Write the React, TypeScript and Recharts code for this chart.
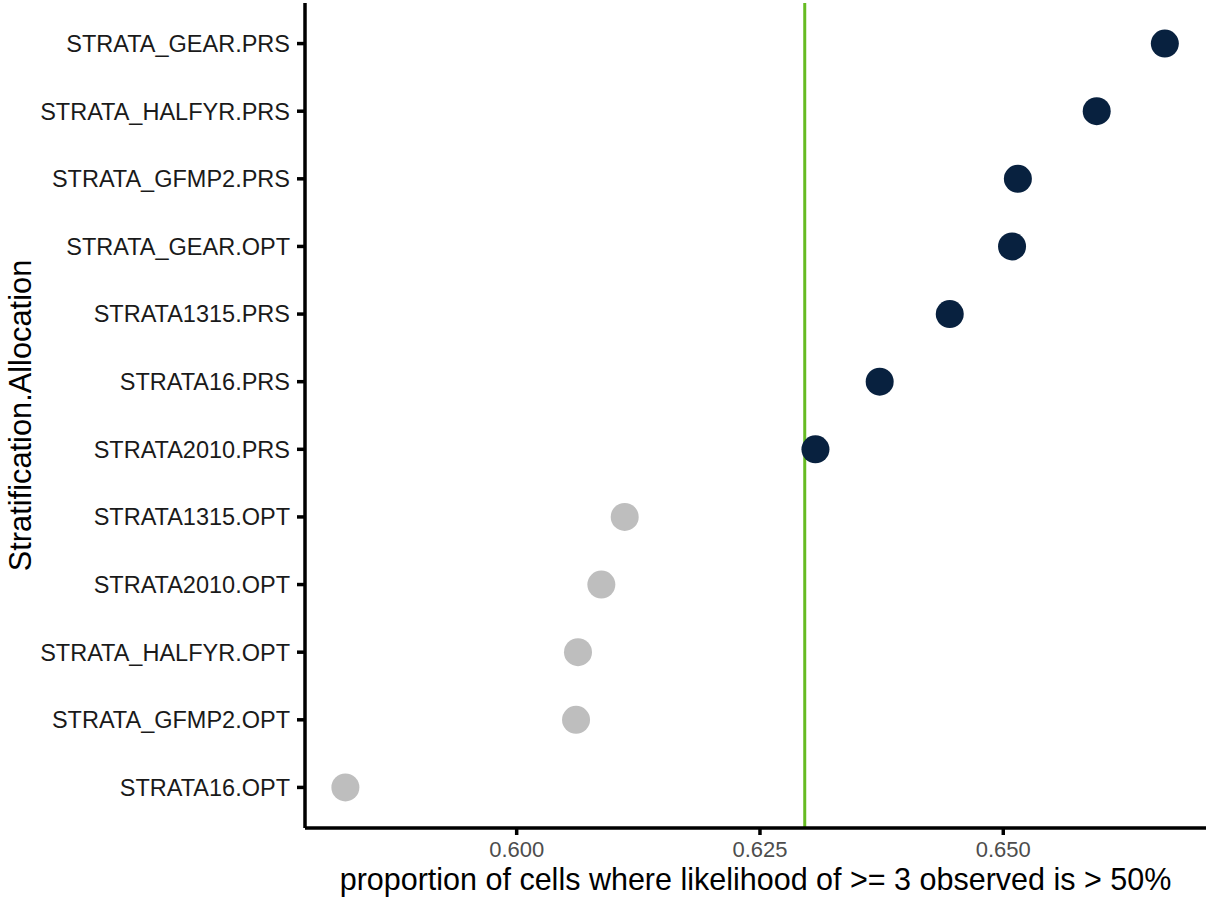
import React from 'react'
import {
  ScatterChart,
  Scatter,
  XAxis,
  YAxis,
  ReferenceLine,
  Label,
} from 'recharts'

// allocation names, top to bottom as they appear on the y axis
const allocations = [
  'STRATA_GEAR.PRS',
  'STRATA_HALFYR.PRS',
  'STRATA_GFMP2.PRS',
  'STRATA_GEAR.OPT',
  'STRATA1315.PRS',
  'STRATA16.PRS',
  'STRATA2010.PRS',
  'STRATA1315.OPT',
  'STRATA2010.OPT',
  'STRATA_HALFYR.OPT',
  'STRATA_GFMP2.OPT',
  'STRATA16.OPT',
]

// proportion of cells where likelihood of >= 3 observed is > 50%
const proportions = [
  0.6666, 0.6596, 0.6515, 0.6509, 0.6445, 0.6373, 0.6307, 0.6111, 0.6087,
  0.6063, 0.6061, 0.5824,
]

const threshold = 0.6296
const xTicks = [0.6, 0.625, 0.65]

const FONT = '"Liberation Sans", Arial, sans-serif'
const ABOVE = '#08213f'
const BELOW = '#bebebe'

const points = allocations.map((name, i) => ({
  name,
  idx: i,
  value: proportions[i],
}))
const abovePts = points.filter((p) => p.value >= threshold)
const belowPts = points.filter((p) => p.value < threshold)

const dot = (color: string) => (props: any) =>
  <circle cx={props.cx} cy={props.cy} r={14} fill={color} />

const YTitle = (props: any) => {
  const vb = props.viewBox
  const cx = 20
  const cy = vb.y + vb.height / 2
  return (
    <text
      x={cx}
      y={cy}
      transform={`rotate(-90, ${cx}, ${cy})`}
      textAnchor='middle'
      dominantBaseline='central'
      fontSize={30.8}
      fontFamily={FONT}
      fill='#000'
    >
      Stratification.Allocation
    </text>
  )
}

export default function App() {
  return (
    <div style={{ position: 'absolute', left: 0, top: 0, background: '#fff' }}>
      <ScatterChart
        width={1206}
        height={900}
        margin={{ top: 3, right: 0, bottom: 0, left: 0 }}
      >
        <XAxis
          type='number'
          dataKey='value'
          domain={[0.57825, 0.67083]}
          ticks={xTicks}
          tickFormatter={(v: number) => v.toFixed(3)}
          allowDataOverflow
          height={72}
          stroke='#000'
          strokeWidth={3.5}
          tickSize={7}
          tickMargin={6}
          tick={{ fill: '#4d4d4d', fontSize: 22, fontFamily: FONT }}
        >
          <Label
            value='proportion of cells where likelihood of >= 3 observed is > 50%'
            position='insideBottom'
            offset={10}
            style={{ fontSize: 30.5, fontFamily: FONT, fill: '#000' }}
          />
        </XAxis>
        <YAxis
          type='number'
          dataKey='idx'
          domain={[-0.6, 11.6]}
          reversed
          ticks={allocations.map((_, i) => i)}
          interval={0}
          tickFormatter={(i: number) => allocations[i] ?? ''}
          width={305}
          stroke='#000'
          strokeWidth={3.5}
          tickSize={8}
          tickMargin={7}
          tick={{ fill: '#1a1a1a', fontSize: 23.5, fontFamily: FONT }}
        >
          <Label content={YTitle} />
        </YAxis>
        <Scatter
          data={belowPts}
          shape={dot(BELOW)}
          isAnimationActive={false}
        />
        <Scatter
          data={abovePts}
          shape={dot(ABOVE)}
          isAnimationActive={false}
        />
        <ReferenceLine x={threshold} stroke='#66bb22' strokeWidth={3} />
      </ScatterChart>
    </div>
  )
}
